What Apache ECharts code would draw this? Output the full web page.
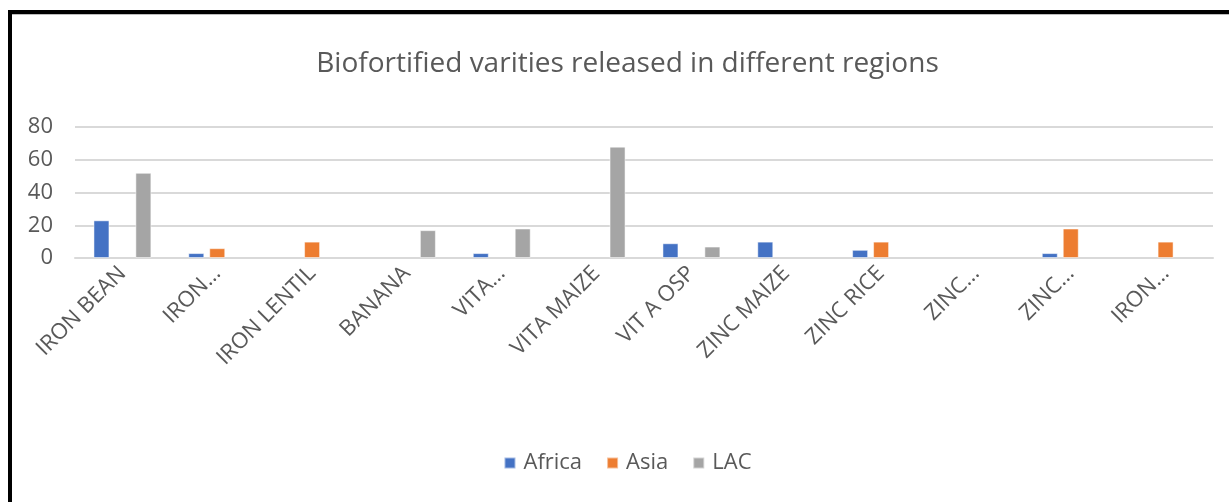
<!DOCTYPE html>
<html>
<head>
<meta charset="utf-8">
<script src="https://cdn.jsdelivr.net/npm/echarts@6/dist/echarts.min.js"></script>
<style>
  html, body { margin: 0; padding: 0; background: #fff; overflow: hidden; width: 1229px; height: 502px; }
  #frame {
    position: absolute; left: 8px; top: 10px; width: 1240px; height: 500px;
    border-top: 4px solid #000; border-left: 4px solid #000;
    box-shadow: inset 0 1px 0 #bdbdbd;
  }
  /* the chart area sits to the right of the frame's left edge */
  #chart { position: absolute; left: 13px; top: 0; width: 1229px; height: 502px; }
</style>
</head>
<body>
<div id="frame"></div>
<div id="chart"></div>
<script>
// categories as shown on the x axis (Excel truncated some of them)
const categories = ['IRON BEAN', 'IRON…', 'IRON LENTIL', 'BANANA', 'VITA…', 'VITA MAIZE',
  'VIT A OSP', 'ZINC MAIZE', 'ZINC RICE', 'ZINC…', 'ZINC…', 'IRON…']
const africa = [23, 3, null, null, 3, null, 9, 10, 5, null, 3, null]
const asia = [null, 6, 10, null, null, null, null, null, 10, null, 18, 10]
const lac = [52, null, null, 17, 18, 68, 7, null, null, null, null, null]
const yTicks = [0, 20, 40, 60, 80]

const font = '"Open Sans", Lato, sans-serif'
const grey = '#595959'

const chart = echarts.init(document.getElementById('chart'))

// one bar series per region
function bars (name, data, color) {
  return {
    name: name,
    type: 'bar',
    data: data,
    barWidth: 16,
    barGap: '31%',
    itemStyle: { color: color, borderColor: 'rgba(255,255,255,0.5)', borderWidth: 1 }
  }
}

chart.setOption({
  animation: false,
  textStyle: { fontFamily: font },
  title: {
    text: 'Biofortified varities released in different regions',
    left: 'center',
    top: 45,
    textStyle: { fontFamily: font, fontSize: 28, fontWeight: 'normal', color: grey }
  },
  legend: {
    bottom: 23,
    left: 'center',
    itemWidth: 11,
    itemHeight: 11,
    itemGap: 24,
    icon: 'rect',
    textStyle: { fontFamily: font, fontSize: 22, color: grey, padding: [0, 0, 0, 3] },
    data: ['Africa', 'Asia', 'LAC']
  },
  grid: { left: 62, right: 29, top: 127, bottom: 244 },
  xAxis: {
    type: 'category',
    data: categories,
    axisLine: { lineStyle: { color: '#d9d9d9', width: 2 } },
    axisTick: { show: false },
    axisLabel: {
      rotate: 45,
      interval: 0,
      margin: 12,
      fontFamily: font,
      fontSize: 22,
      color: grey
    }
  },
  yAxis: {
    type: 'value',
    min: yTicks[0],
    max: yTicks[yTicks.length - 1],
    interval: 20,
    axisLine: { show: false },
    axisTick: { show: false },
    splitLine: { lineStyle: { color: '#d9d9d9', width: 2 } },
    axisLabel: { fontFamily: font, fontSize: 22, color: grey, margin: 22 }
  },
  series: [
    bars('Africa', africa, '#4472C4'),
    bars('Asia', asia, '#ED7D31'),
    bars('LAC', lac, '#A5A5A5')
  ]
})
</script>
</body>
</html>
